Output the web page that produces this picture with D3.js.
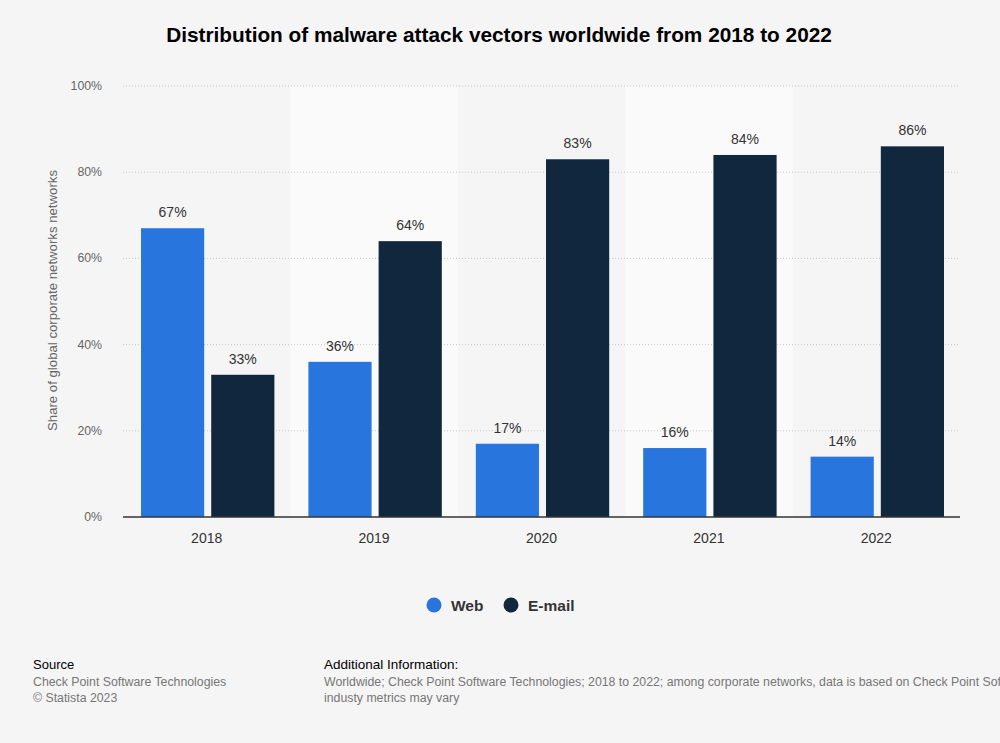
<!DOCTYPE html>
<html>
<head>
<meta charset="utf-8">
<script src="https://cdn.jsdelivr.net/npm/d3@7"></script>
<style>
  html, body { margin: 0; padding: 0; background: #f5f5f5; overflow: hidden; }
  text { font-family: "Liberation Sans", Arial, sans-serif; }
</style>
</head>
<body>
<div id="chart"></div>
<script>
const years = ["2018", "2019", "2020", "2021", "2022"];
const seriesNames = ["Web", "E-mail"];
const webValues = [67, 36, 17, 16, 14];
const emailValues = [33, 64, 83, 84, 86];
const yTicks = [0, 20, 40, 60, 80, 100];
const colors = ["#2876dd", "#10273e"];

const width = 1000, height = 743;
const margin = { top: 86, right: 40, bottom: 226, left: 123 };
const plotW = width - margin.left - margin.right;
const plotH = height - margin.top - margin.bottom;

const svg = d3.select("#chart").append("svg")
  .attr("width", width)
  .attr("height", height);

svg.append("rect").attr("width", width).attr("height", height).attr("fill", "#f5f5f5");

svg.append("text")
  .attr("x", 499).attr("y", 42)
  .attr("text-anchor", "middle")
  .style("font-size", "20.8px")
  .style("font-weight", "bold")
  .style("fill", "#000")
  .text("Distribution of malware attack vectors worldwide from 2018 to 2022");

const g = svg.append("g").attr("transform", `translate(${margin.left},${margin.top})`);

const x = d3.scaleBand().domain(years).range([0, plotW]).paddingInner(0).paddingOuter(0);
const x1 = d3.scaleBand().domain(seriesNames).range([18, x.bandwidth() - 16]).paddingInner(0.1);
const y = d3.scaleLinear().domain([0, 100]).range([plotH, 0]);

// alternating column bands
g.selectAll(".band")
  .data(years.filter((d, i) => i % 2 === 1))
  .enter().append("rect")
  .attr("x", d => x(d))
  .attr("y", 0)
  .attr("width", x.bandwidth())
  .attr("height", plotH)
  .attr("fill", "#fafafa");

// grid
g.selectAll(".grid")
  .data(yTicks.filter(t => t > 0))
  .enter().append("line")
  .attr("x1", 0).attr("x2", plotW)
  .attr("y1", d => y(d)).attr("y2", d => y(d))
  .attr("stroke", "#c8c8c8")
  .attr("stroke-width", 1)
  .attr("stroke-dasharray", "1,2");

// y tick labels
g.selectAll(".ytick")
  .data(yTicks)
  .enter().append("text")
  .attr("x", -21)
  .attr("y", d => y(d) + 4)
  .attr("text-anchor", "end")
  .style("font-size", "12.3px")
  .style("fill", "#666")
  .text(d => d + "%");

svg.append("text")
  .attr("transform", `translate(57,${margin.top + plotH / 2 - 1}) rotate(-90)`)
  .attr("text-anchor", "middle")
  .style("font-size", "13.2px")
  .style("fill", "#666")
  .text("Share of global corporate networks networks");

const data = years.map((yr, i) => ({ year: yr, values: [webValues[i], emailValues[i]] }));

const groups = g.selectAll(".grp")
  .data(data)
  .enter().append("g")
  .attr("transform", d => `translate(${x(d.year)},0)`);

groups.selectAll("rect")
  .data(d => d.values.map((v, k) => ({ name: seriesNames[k], v, k })))
  .enter().append("rect")
  .attr("x", d => x1(d.name))
  .attr("y", d => y(d.v))
  .attr("width", x1.bandwidth())
  .attr("height", d => plotH - y(d.v))
  .attr("fill", d => colors[d.k]);

groups.selectAll(".val")
  .data(d => d.values.map((v, k) => ({ name: seriesNames[k], v, k })))
  .enter().append("text")
  .attr("x", d => x1(d.name) + x1.bandwidth() / 2)
  .attr("y", d => y(d.v) - 11)
  .attr("text-anchor", "middle")
  .style("font-size", "14px")
  .style("fill", "#333")
  .text(d => d.v + "%");

// x axis line
g.append("line")
  .attr("x1", 0).attr("x2", plotW)
  .attr("y1", plotH).attr("y2", plotH)
  .attr("stroke", "#333")
  .attr("stroke-width", 1.5);

g.selectAll(".xlabel")
  .data(years)
  .enter().append("text")
  .attr("x", d => x(d) + x.bandwidth() / 2)
  .attr("y", plotH + 26)
  .attr("text-anchor", "middle")
  .style("font-size", "14px")
  .style("fill", "#333")
  .text(d => d);

// legend
const legendX = [434, 511];
const legend = svg.append("g");
seriesNames.forEach((name, i) => {
  legend.append("circle")
    .attr("cx", legendX[i]).attr("cy", 605).attr("r", 7.5)
    .attr("fill", colors[i]);
  legend.append("text")
    .attr("x", legendX[i] + 17).attr("y", 610.5)
    .style("font-size", "15.5px")
    .style("font-weight", "bold")
    .style("fill", "#333")
    .text(name);
});

// footer
const foot = svg.append("g");
foot.append("text").attr("x", 33).attr("y", 669)
  .style("font-size", "13px").style("fill", "#000").text("Source");
foot.append("text").attr("x", 33).attr("y", 686)
  .style("font-size", "12.3px").style("fill", "#777").text("Check Point Software Technologies");
foot.append("text").attr("x", 33).attr("y", 702)
  .style("font-size", "12.3px").style("fill", "#777").text("© Statista 2023");
foot.append("text").attr("x", 324).attr("y", 669)
  .style("font-size", "13.5px").style("fill", "#000").text("Additional Information:");
foot.append("text").attr("x", 324).attr("y", 686)
  .style("font-size", "12.3px").style("fill", "#777")
  .text("Worldwide; Check Point Software Technologies; 2018 to 2022; among corporate networks, data is based on Check Point Software's");
foot.append("text").attr("x", 324).attr("y", 702)
  .style("font-size", "12.3px").style("fill", "#777").text("industy metrics may vary");
</script>
</body>
</html>
